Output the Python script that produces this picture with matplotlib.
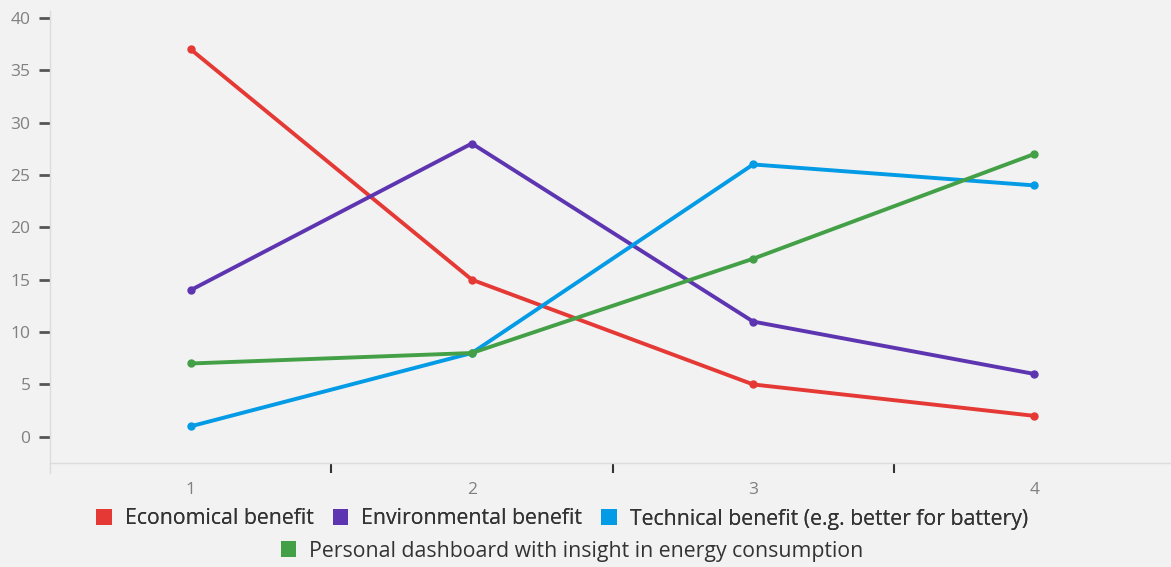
import matplotlib
matplotlib.use("Agg")
import matplotlib.pyplot as plt
from matplotlib.patches import Patch

plt.rcParams['font.family'] = ['Open Sans', 'DejaVu Sans']

# survey answers per ranking position
positions = [1, 2, 3, 4]
economical = [37, 15, 5, 2]
environmental = [14, 28, 11, 6]
technical = [1, 8, 26, 24]
dashboard = [7, 8, 17, 27]

names = ["Economical benefit",
         "Environmental benefit",
         "Technical benefit (e.g. better for battery)",
         "Personal dashboard with insight in energy consumption"]
colors = ["#e53935", "#5e35b1", "#039be5", "#43a047"]
series = [economical, environmental, technical, dashboard]

bg = "#f2f2f2"
fig = plt.figure(figsize=(11.71, 5.67), dpi=100, facecolor=bg)
ax = fig.add_axes([50 / 1171, 1 - 463 / 567, 1125 / 1171, (463 - 11) / 567])
ax.set_facecolor(bg)

for vals, c in zip(series, colors):
    ax.plot(positions, vals, color=c, lw=2.8, marker="o", ms=5,
            solid_capstyle="round")

ax.set_xlim(0.5, 4.5)
ax.set_ylim(-2.5, 40.65)
ax.set_yticks(range(0, 41, 5))
ax.set_xticks(positions)
ax.set_xticks([1.5, 2.5, 3.5], minor=True)

for s in ["top", "right"]:
    ax.spines[s].set_visible(False)
for s in ["left", "bottom"]:
    ax.spines[s].set_color("#dcdcdc")
    ax.spines[s].set_linewidth(1)
ax.spines["left"].set_bounds(-3.5, 40.65)

ax.tick_params(axis="y", direction="out", length=8, width=2, color="#555555",
               labelcolor="#808080", labelsize=12.5, pad=6)
ax.tick_params(axis="x", which="major", length=0, labelcolor="#808080",
               labelsize=12.5, pad=14)
ax.tick_params(axis="x", which="minor", direction="out", length=7, width=1.5,
               color="#333333")

handles = [Patch(facecolor=c, edgecolor="none") for c in colors]
leg1 = fig.legend(handles[:3], names[:3], ncol=3, loc="center",
                  bbox_to_anchor=(562 / 1171, 1 - 519 / 567), frameon=False,
                  fontsize=15.3, labelcolor="#333333", handlelength=0.75,
                  handleheight=0.75, handletextpad=0.6, columnspacing=0.9)
fig.legend(handles[3:], names[3:], loc="center",
           bbox_to_anchor=(572 / 1171, 1 - 551 / 567), frameon=False,
           fontsize=15.3, labelcolor="#333333", handlelength=0.75,
           handleheight=0.75, handletextpad=0.6)
fig.add_artist(leg1)

fig.savefig("out.png", dpi=100, facecolor=bg)
